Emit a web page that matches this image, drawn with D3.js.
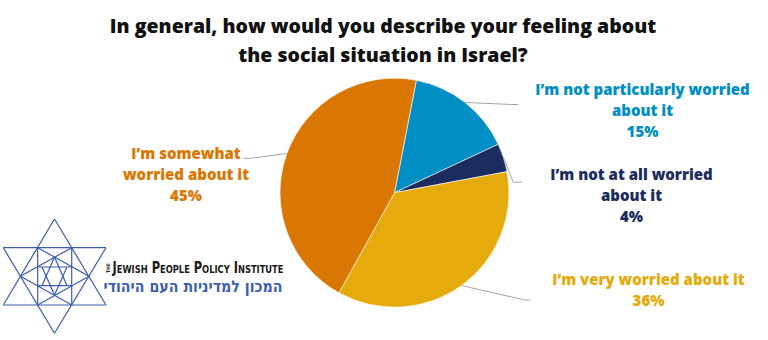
<!DOCTYPE html>
<html>
<head>
<meta charset="utf-8">
<script src="https://cdn.jsdelivr.net/npm/d3@7"></script>
<style>
  html, body { margin: 0; padding: 0; background: #ffffff; }
  svg { display: block; }
</style>
</head>
<body>
<svg id="chart" width="768" height="340"></svg>
<script>
// ---- data ----
const categories = [
  "I\u2019m not particularly worried about it",
  "I\u2019m not at all worried about it",
  "I\u2019m very worried about it",
  "I\u2019m somewhat worried about it"
];
const values = [15, 4, 36, 45];
const labelLines = [
  ["I\u2019m not particularly worried", "about it"],
  ["I\u2019m not at all worried", "about it"],
  ["I\u2019m very worried about it"],
  ["I\u2019m somewhat", "worried about it"]
];
const titleLines = [
  "In general, how would you describe your feeling about",
  "the social situation in Israel?"
];
const logoTextEn = "Jewish People Policy Institute";
const logoTextHe = "המכון למדיניות העם היהודי";

// ---- style / layout ----
const colors = ["#008fc5", "#1b2c5e", "#e5aa0c", "#da7703"];
const cx = 394.5, cy = 192.7, R = 114.5;
const startDeg = 11;
const labelPos = [
  { x: 642.5, y: 95 },
  { x: 631.5, y: 180 },
  { x: 648.5, y: 285 },
  { x: 186, y: 159 }
];
const leaders = [
  { ex: 512, ey: 104.5, endX: 518 },
  { ex: 513.3, ey: 182.3, endX: 521.7 },
  { ex: 525, ey: 300, endX: 530.7 },
  { ex: 250, ey: 158.3, endX: 243.3 }
];
const lineH = 21;

const svg = d3.select("#chart");

// title
svg.append("g").selectAll("text").data(titleLines).join("text")
  .attr("x", 383).attr("y", (d, i) => 33 + i * 29)
  .attr("text-anchor", "middle")
  .style("font-family", "'Open Sans', sans-serif")
  .style("font-weight", 800).style("font-size", "19.5px")
  .attr("fill", "#111111")
  .text(d => d);

// pie
const pie = d3.pie().sort(null).value(d => d)
  .startAngle(startDeg * Math.PI / 180)
  .endAngle((startDeg + 360) * Math.PI / 180);
const arcs = pie(values);
const arc = d3.arc().innerRadius(0).outerRadius(R);

const g = svg.append("g").attr("transform", `translate(${cx},${cy})`);
g.selectAll("path").data(arcs).join("path")
  .attr("d", arc)
  .attr("fill", (d, i) => colors[i])
  .attr("stroke", "#ffffff").attr("stroke-width", 0.6);

// leader lines
const leaderG = svg.append("g");
arcs.forEach((a, i) => {
  const mid = (a.startAngle + a.endAngle) / 2;
  const sx = cx + R * Math.sin(mid), sy = cy - R * Math.cos(mid);
  const L = leaders[i];
  leaderG.append("polyline")
    .attr("points", `${sx},${sy} ${L.ex},${L.ey} ${L.endX},${L.ey}`)
    .attr("fill", "none").attr("stroke", "#a6a6a6").attr("stroke-width", 1);
});

// labels
arcs.forEach((a, i) => {
  const lines = labelLines[i].concat([Math.round(values[i]) + "%"]);
  const t = svg.append("text")
    .attr("text-anchor", "middle")
    .style("font-family", "'Open Sans', sans-serif")
    .style("font-weight", 800).style("font-size", "15px")
    .attr("fill", colors[i]);
  lines.forEach((ln, j) => {
    t.append("tspan").attr("x", labelPos[i].x).attr("y", labelPos[i].y + j * lineH).text(ln);
  });
});

// logo
const logoBlue = "#3d5cb0";
const lg = svg.append("g").attr("stroke", logoBlue).attr("stroke-width", 1.2).attr("fill", "none");
const P = {
  top: [54.5, 219], bot: [54.5, 333.3],
  ul: [3.3, 247.7], ur: [106, 247.7], ll: [3.3, 305], lr: [106, 305],
  h1: [37.7, 247.7], h2: [71.7, 247.7], h3: [89, 276.3], h4: [71.7, 305], h5: [37.7, 305], h6: [20.5, 276.3]
};
const segs = [
  [P.top, P.ll], [P.ll, P.lr], [P.lr, P.top],
  [P.bot, P.ul], [P.ul, P.ur], [P.ur, P.bot],
  [P.h1, P.h5], [P.h2, P.h4],
  [P.h6, P.h2], [P.h6, P.h4], [P.h3, P.h1], [P.h3, P.h5],
  [[37.7, 267], [71.7, 267]], [[37.7, 285.7], [71.7, 285.7]],
  [[54.5, 257], [42, 285.7]], [[54.5, 257], [67, 285.7]],
  [[54.5, 295], [42, 267]], [[54.5, 295], [67, 267]]
];
lg.selectAll("line").data(segs).join("line")
  .attr("x1", d => d[0][0]).attr("y1", d => d[0][1])
  .attr("x2", d => d[1][0]).attr("y2", d => d[1][1]);

// "THE" vertical
svg.append("text")
  .attr("transform", "translate(110,273) rotate(-90)")
  .style("font-family", "'Liberation Sans Narrow', 'DejaVu Sans Condensed', sans-serif")
  .style("font-weight", 700).style("font-size", "5px")
  .attr("fill", "#1a1a1a")
  .text("THE");

// English logo line in small caps
svg.append("text")
  .attr("x", 112.5).attr("y", 272.8)
  .attr("textLength", 171).attr("lengthAdjust", "spacingAndGlyphs")
  .style("font-family", "'Liberation Sans Narrow', 'DejaVu Sans Condensed', sans-serif")
  .style("font-weight", 700)
  .style("font-size", "15px")
  .style("font-variant", "small-caps")
  .attr("fill", "#1a1a1a")
  .text(logoTextEn);

svg.append("text")
  .attr("x", 103.5).attr("y", 292)
  .attr("textLength", 179).attr("lengthAdjust", "spacingAndGlyphs")
  .style("font-family", "'DejaVu Sans Condensed', 'DejaVu Sans', sans-serif")
  .style("font-weight", 700)
  .style("font-size", "16px")
  .attr("fill", logoBlue)
  .text(logoTextHe);
</script>
</body>
</html>
